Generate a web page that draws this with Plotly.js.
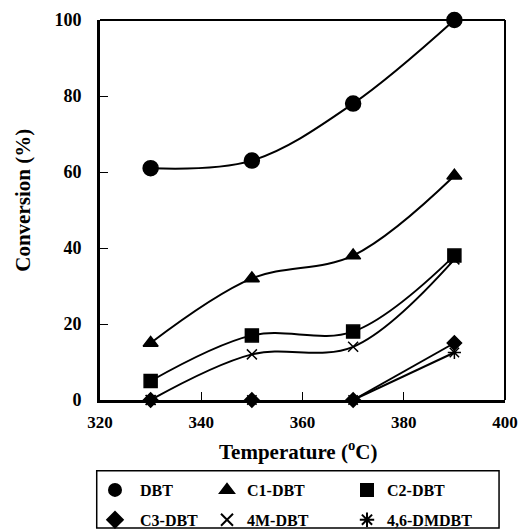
<!DOCTYPE html>
<html>
<head>
<meta charset="utf-8">
<script src="https://cdn.plot.ly/plotly-3.0.1.min.js"></script>
<style>
  html, body { margin: 0; padding: 0; background: #fff; }
  #chart { width: 518px; height: 529px; }
</style>
</head>
<body>
<div id="chart"></div>
<script>
// Reaction temperatures (ºC)
const temperatures = [330, 350, 370, 390];

// Conversion (%) of each sulfur compound
const dbt     = [61, 63, 78, 100];
const c1Dbt   = [15, 32, 38, 59];
const c2Dbt   = [5, 17, 18, 38];
const c3Dbt   = [0, 0, 0, 15];
const m4Dbt   = [0, 12, 14, 37];
const dm46Dbt = [0, 0, 0, 12.5];

const seriesNames = ['DBT', 'C1-DBT', 'C2-DBT', 'C3-DBT', '4M-DBT', '4,6-DMDBT'];
const xTicks = [320, 340, 360, 380, 400];
const yTicks = [0, 20, 40, 60, 80, 100];
const xTitle = 'Temperature (<sup>o</sup>C)';
const yTitle = 'Conversion (%)';

const FONT = 'Liberation Serif, Times New Roman, serif';

// Smooth black trend line through a set of points
function curve(xs, ys) {
  return {
    x: xs, y: ys, type: 'scatter', mode: 'lines',
    line: { color: '#000', width: 2, shape: 'spline', smoothing: 1 },
    showlegend: false, hoverinfo: 'skip', cliponaxis: false
  };
}

// Marker-only series, also used for the legend entries
function points(ys, name, symbol, size, legendId, rank) {
  return {
    x: temperatures, y: ys, name: name, type: 'scatter', mode: 'markers',
    marker: { symbol: symbol, size: size, color: '#000',
              line: { color: '#000', width: 1.5 } },
    legend: legendId, legendgroup: 'g' + rank, legendrank: rank,
    cliponaxis: false
  };
}

const traces = [
  curve(temperatures, dbt),
  curve(temperatures, c1Dbt),
  curve(temperatures, c2Dbt),
  curve(temperatures, m4Dbt),
  curve(temperatures.slice(2), c3Dbt.slice(2)),
  curve(temperatures.slice(2), dm46Dbt.slice(2)),

  points(dbt,     seriesNames[0], 'circle',        15, 'legend',  1),
  points(c1Dbt,   seriesNames[1], 'triangle-up',   13, 'legend2', 2),
  points(c2Dbt,   seriesNames[2], 'square',        13, 'legend3', 3),
  points(c3Dbt,   seriesNames[3], 'diamond',       11, 'legend',  4),
  points(m4Dbt,   seriesNames[4], 'x-thin-open',   10, 'legend2', 5),
  points(dm46Dbt, seriesNames[5], 'asterisk-open', 11, 'legend3', 6)
];

// One legend per column, placed in page coordinates
function legendAt(xPx, itemWidth) {
  return {
    xref: 'container', yref: 'container',
    x: xPx / 518, y: (529 - 473) / 529, xanchor: 'left', yanchor: 'top',
    bgcolor: 'rgba(0,0,0,0)', borderwidth: 0,
    font: { family: FONT, size: 16, color: '#000', weight: 'bold' },
    itemsizing: 'constant', itemwidth: itemWidth,
    traceorder: 'grouped', tracegroupgap: 6
  };
}

const axisBase = {
  showline: true, linecolor: '#000', linewidth: 3, mirror: false,
  ticks: 'inside', ticklen: 8, tickwidth: 1, tickcolor: '#000',
  showgrid: false, zeroline: false, fixedrange: true, automargin: false
};

const titleFont = { family: FONT, size: 21, color: '#000', weight: 'bold' };

const layout = {
  width: 518, height: 529,
  margin: { l: 100, r: 13, t: 20, b: 129, autoexpand: false },
  paper_bgcolor: '#fff', plot_bgcolor: '#fff',
  font: { family: FONT, color: '#000' },
  xaxis: Object.assign({}, axisBase, {
    range: [320, 400], tickvals: xTicks, ticktext: xTicks.map(String),
    ticklabelstandoff: 5,
    tickfont: { family: FONT, size: 17, color: '#000', weight: 'bold' }
  }),
  yaxis: Object.assign({}, axisBase, {
    range: [0, 100], tickvals: yTicks, ticktext: yTicks.map(String),
    ticklabelstandoff: 12,
    tickfont: { family: FONT, size: 18, color: '#000', weight: 'bold' }
  }),
  // axis titles
  annotations: [
    { text: xTitle, xref: 'paper', yref: 'paper', x: 0.489, y: -0.134,
      xanchor: 'center', yanchor: 'middle', showarrow: false, font: titleFont },
    { text: yTitle, xref: 'paper', yref: 'paper', x: -0.191, y: 0.526,
      xanchor: 'center', yanchor: 'middle', showarrow: false, textangle: -90,
      font: titleFont }
  ],
  showlegend: true,
  legend: legendAt(90, 40),
  legend2: legendAt(207, 30),
  legend3: legendAt(347, 30),
  shapes: [
    // thin top and right frame
    { type: 'line', xref: 'paper', yref: 'paper', x0: 0, x1: 1, y0: 1, y1: 1,
      line: { color: '#000', width: 2 } },
    { type: 'line', xref: 'paper', yref: 'paper', x0: 1, x1: 1, y0: 0, y1: 1,
      line: { color: '#000', width: 2 } },
    // legend frame
    { type: 'rect', xref: 'paper', yref: 'paper',
      x0: -0.0081, x1: 0.9853, y0: -0.3368, y1: -0.186,
      line: { color: '#000', width: 1.5 }, fillcolor: 'rgba(0,0,0,0)' }
  ]
};

Plotly.newPlot('chart', traces, layout, { displayModeBar: false, staticPlot: true });
</script>
</body>
</html>
